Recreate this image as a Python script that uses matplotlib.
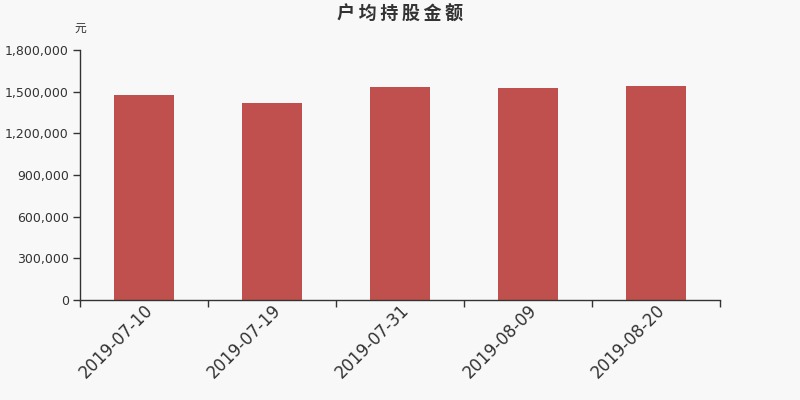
import matplotlib
matplotlib.use("Agg")
import matplotlib.pyplot as plt
from matplotlib.ticker import FuncFormatter, FixedLocator

plt.rcParams['font.family'] = ['Noto Sans CJK SC', 'DejaVu Sans']

categories = ["2019-07-10", "2019-07-19", "2019-07-31", "2019-08-09", "2019-08-20"]
values = [1474000, 1421000, 1531000, 1525000, 1541000]
yticks = [0, 300000, 600000, 900000, 1200000, 1500000, 1800000]

bg = "#f8f8f8"
fig = plt.figure(figsize=(8, 4), dpi=100, facecolor=bg)
ax = fig.add_axes([0.1, 0.25, 0.8, 0.625], facecolor=bg)

x = list(range(len(categories)))
ax.bar(x, values, width=0.47, color="#c0504d", zorder=2)

ax.set_xlim(-0.5, len(categories) - 0.5)
ax.set_ylim(0, 1800000)
ax.set_yticks(yticks)
ax.yaxis.set_major_formatter(FuncFormatter(lambda v, p: f"{int(v):,}"))

ax.xaxis.set_major_locator(FixedLocator([i - 0.5 for i in range(len(categories) + 1)]))
ax.xaxis.set_major_formatter(FuncFormatter(lambda v, p: ""))
ax.set_xticks(x, minor=True)
ax.set_xticklabels(categories, minor=True, rotation=45, ha='right', rotation_mode='anchor',
                   fontsize=12, color="#333333", family=['DejaVu Sans'])
ax.tick_params(axis='x', which='minor', length=0, pad=1)
ax.tick_params(axis='x', which='major', length=5, width=1, color="#333333")
ax.tick_params(axis='y', length=5, width=1, color="#333333", labelsize=9, labelcolor="#333333", pad=3)
for lab in ax.get_yticklabels():
    lab.set_family(['DejaVu Sans'])

for s in ['top', 'right']:
    ax.spines[s].set_visible(False)
for s in ['left', 'bottom']:
    ax.spines[s].set_color("#333333")
    ax.spines[s].set_linewidth(1)

title = "户均持股金额"
fig.text(0.5, 0.965, "\u2009".join(title), ha='center', va='center', fontsize=13,
         fontweight='bold', color="#333333", family=['Noto Sans CJK SC', 'DejaVu Sans'])
fig.text(0.1, 0.928, "元", ha='center', va='center', fontsize=8.5, color="#333333")

fig.savefig("out.png", dpi=100, facecolor=bg)
